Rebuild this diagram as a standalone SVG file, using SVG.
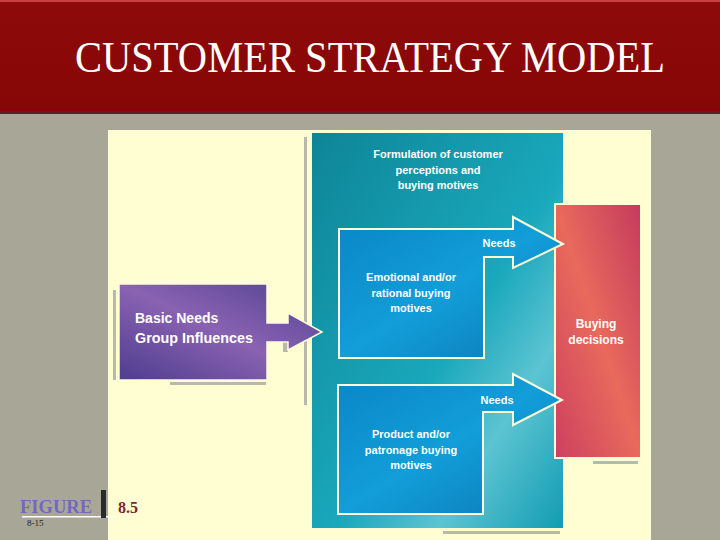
<svg xmlns="http://www.w3.org/2000/svg" width="720" height="540" viewBox="0 0 720 540">
<defs>
<linearGradient id="gTeal" x1="0" y1="0" x2="1" y2="1">
<stop offset="0" stop-color="#0e8597"/><stop offset="0.55" stop-color="#1aa8bc"/><stop offset="0.75" stop-color="#5cc4d2"/><stop offset="1" stop-color="#129cb2"/>
</linearGradient>
<linearGradient id="gBlue" x1="0" y1="0" x2="1" y2="1">
<stop offset="0" stop-color="#0a86c6"/><stop offset="0.5" stop-color="#129ed8"/><stop offset="1" stop-color="#0a78b6"/>
</linearGradient>
<linearGradient id="gRed" x1="1" y1="0" x2="0" y2="1">
<stop offset="0" stop-color="#c43a5e"/><stop offset="0.5" stop-color="#e86a5c"/><stop offset="1" stop-color="#cc4060"/>
</linearGradient>
<linearGradient id="gPurple" x1="0" y1="1" x2="1" y2="0">
<stop offset="0" stop-color="#4e3d8e"/><stop offset="0.5" stop-color="#8a62b2"/><stop offset="1" stop-color="#4e4290"/>
</linearGradient>
<linearGradient id="gTitle" x1="0" y1="0" x2="0" y2="1">
<stop offset="0" stop-color="#8e0a0a"/><stop offset="1" stop-color="#860606"/>
</linearGradient>
<style>
.lbl{font-family:"Liberation Sans",Arial,sans-serif;font-weight:bold;fill:#ffffff;text-anchor:middle}
.sm{font-size:11px}
.shadow{fill:#b9b8ae}
</style>
</defs>
<rect x="0" y="0" width="720" height="540" fill="#a8a797"/>
<rect x="0" y="0" width="720" height="112" fill="url(#gTitle)"/>
<rect x="0" y="0" width="720" height="2" fill="#c84040"/>
<rect x="0" y="111" width="720" height="3" fill="#5a2020"/>
<text x="75" y="72" font-family="Liberation Serif,'Times New Roman',serif" font-size="44" fill="#ffffff" textLength="590" lengthAdjust="spacingAndGlyphs">CUSTOMER STRATEGY MODEL</text>

<rect x="108" y="130" width="543" height="410" fill="#fffdd2"/>

<g id="connectors">
<rect class="shadow" x="113" y="290" width="3" height="90"/>
<rect class="shadow" x="170" y="382" width="96" height="3"/>
<rect class="shadow" x="304" y="137" width="3" height="268"/>
<rect class="shadow" x="443" y="531" width="117" height="3"/>
<rect class="shadow" x="593" y="461" width="45" height="3"/>
<path d="M283,340 L288,340 L288,352 L283,352 Z" class="shadow"/>
</g>

<g id="teal">
<rect x="312" y="133" width="251" height="395" fill="url(#gTeal)"/>
<text class="lbl sm" x="438" y="158">Formulation of customer</text>
<text class="lbl sm" x="438" y="174">perceptions and</text>
<text class="lbl sm" x="438" y="189">buying motives</text>
</g>

<g id="purple">
<path d="M119,284 L267,284 L267,323 L288,323 L288,313 L322,332 L288,350 L288,342 L267,342 L267,380 L119,380 Z" fill="url(#gPurple)" stroke="#fffbd8" stroke-width="1.5"/>
<text x="135" y="323" font-family="Liberation Sans,Arial,sans-serif" font-weight="bold" font-size="14" fill="#ffffff">Basic Needs</text>
<text x="135" y="343" font-family="Liberation Sans,Arial,sans-serif" font-weight="bold" font-size="14" fill="#ffffff" textLength="118" lengthAdjust="spacingAndGlyphs">Group Influences</text>
</g>

<g id="buying">
<rect x="555" y="204" width="86" height="254" fill="url(#gRed)" stroke="#fffdd2" stroke-width="2"/>
<text class="lbl" font-size="12" x="596" y="328">Buying</text>
<text class="lbl" font-size="12" x="596" y="344">decisions</text>
</g>

<g id="emotional">
<path d="M339,229 L513,229 L513,217 L563,244 L513,268 L513,257 L484,257 L484,358 L339,358 Z" fill="url(#gBlue)" stroke="#fffbd8" stroke-width="2"/>
<text class="lbl sm" x="499" y="247">Needs</text>
<text class="lbl sm" x="411" y="281">Emotional and/or</text>
<text class="lbl sm" x="411" y="297">rational buying</text>
<text class="lbl sm" x="411" y="312">motives</text>
</g>

<g id="product">
<path d="M338,385 L513,385 L513,374 L562,400 L513,425 L513,412 L483,412 L483,514 L338,514 Z" fill="url(#gBlue)" stroke="#fffbd8" stroke-width="2"/>
<text class="lbl sm" x="497" y="404">Needs</text>
<text class="lbl sm" x="411" y="438">Product and/or</text>
<text class="lbl sm" x="411" y="454">patronage buying</text>
<text class="lbl sm" x="411" y="469">motives</text>
</g>

<g id="caption">
<rect x="22" y="516" width="94" height="1.5" fill="#ffffff"/>
<text x="20" y="513" font-family="Liberation Serif,'Times New Roman',serif" font-weight="bold" font-size="18" fill="#7566c4" textLength="72" lengthAdjust="spacingAndGlyphs">FIGURE</text>
<text x="27" y="526" font-family="Liberation Serif,'Times New Roman',serif" font-size="9" fill="#222222">8-15</text>
<rect x="101" y="490" width="5" height="28" fill="#2a2a2a"/>
<text x="118" y="513" font-family="Liberation Serif,'Times New Roman',serif" font-weight="bold" font-size="16" fill="#7a2535">8.5</text>
</g>
</svg>
